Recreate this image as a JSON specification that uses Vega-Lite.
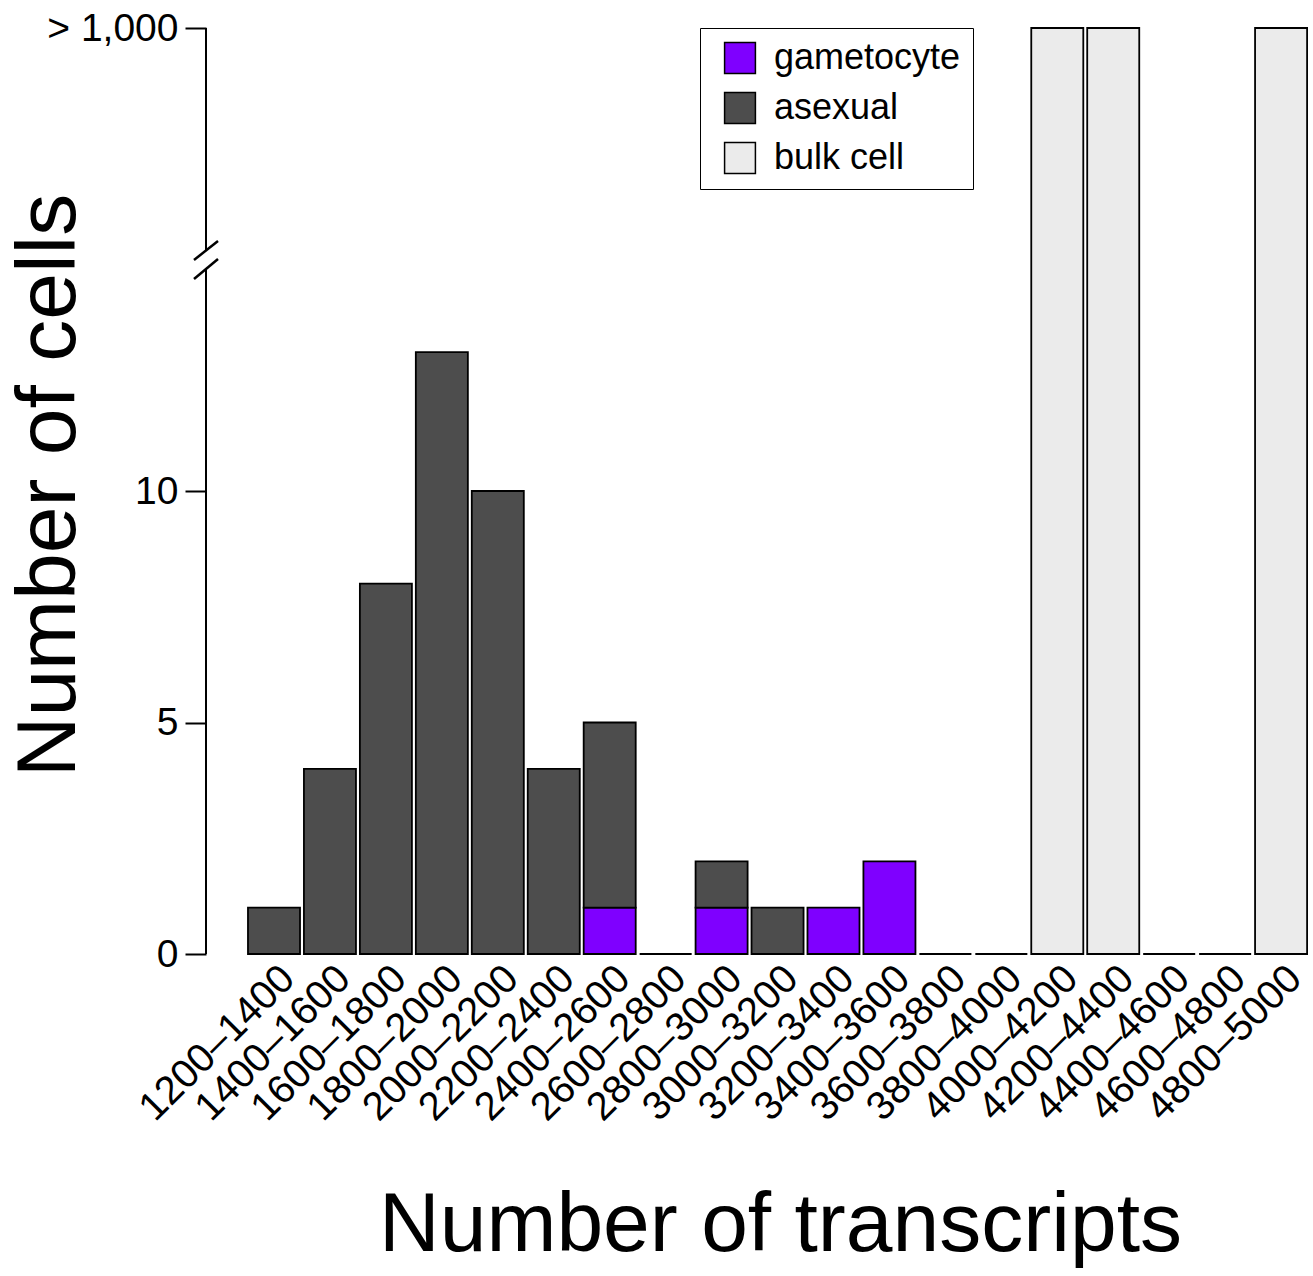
{
  "$schema": "https://vega.github.io/schema/vega-lite/v6.json",
  "autosize": "none",
  "width": 1105,
  "height": 926,
  "padding": {"left": 206, "top": 28, "right": 2, "bottom": 322},
  "background": "white",
  "config": {
    "view": {"stroke": null},
    "font": "Liberation Sans",
    "axis": {"labelFont": "Liberation Sans", "titleFont": "Liberation Sans", "labelColor": "black", "titleColor": "black", "titleFontWeight": "normal", "grid": false},
    "legend": {"labelFont": "Liberation Sans"}
  },
  "layer": [
    {
      "data": {"values": [
        {"range": "1200–1400", "type": "asexual", "count": 1},
        {"range": "1400–1600", "type": "asexual", "count": 4},
        {"range": "1600–1800", "type": "asexual", "count": 8},
        {"range": "1800–2000", "type": "asexual", "count": 13},
        {"range": "2000–2200", "type": "asexual", "count": 10},
        {"range": "2200–2400", "type": "asexual", "count": 4},
        {"range": "2400–2600", "type": "gametocyte", "count": 1},
        {"range": "2400–2600", "type": "asexual", "count": 4},
        {"range": "2600–2800", "type": "asexual", "count": 0},
        {"range": "2800–3000", "type": "gametocyte", "count": 1},
        {"range": "2800–3000", "type": "asexual", "count": 1},
        {"range": "3000–3200", "type": "asexual", "count": 1},
        {"range": "3200–3400", "type": "gametocyte", "count": 1},
        {"range": "3400–3600", "type": "gametocyte", "count": 2},
        {"range": "3600–3800", "type": "asexual", "count": 0},
        {"range": "3800–4000", "type": "asexual", "count": 0},
        {"range": "4000–4200", "type": "bulk cell", "count": 1000},
        {"range": "4200–4400", "type": "bulk cell", "count": 1000},
        {"range": "4400–4600", "type": "asexual", "count": 0},
        {"range": "4600–4800", "type": "asexual", "count": 0},
        {"range": "4800–5000", "type": "bulk cell", "count": 1000}
      ]},
      "mark": {"type": "bar", "stroke": "black", "strokeWidth": 1.8},
      "encoding": {
        "x": {
          "field": "range", "type": "nominal", "sort": null,
          "scale": {"paddingInner": 0.07, "paddingOuter": 0.41, "align": 0.915},
          "axis": {
            "title": "Number of transcripts", "titleFontSize": 84, "titleX": 574, "titleY": 296,
            "titleBaseline": "alphabetic", "titleAnchor": null, "titleAlign": "center",
            "labelAngle": -45, "labelFontSize": 40, "labelAlign": "right", "labelBaseline": "top",
            "labelPadding": 4, "domain": false, "ticks": false, "labelOverlap": false, "labelLimit": 0
          }
        },
        "y": {
          "field": "count", "type": "quantitative", "stack": "zero",
          "scale": {"domain": [0, 20], "clamp": true, "nice": false, "zero": true},
          "axis": {
            "title": "Number of cells", "titleFontSize": 84, "titleX": -157, "titleY": 457,
            "titleAngle": -90, "titleAlign": "center", "titleBaseline": "middle", "titleAnchor": null,
            "values": [0, 5, 10, 20],
            "labelExpr": "datum.value == 20 ? '> 1,000' : datum.label",
            "labelFontSize": 39, "labelPadding": 7, "labelBaseline": "middle", "labelLimit": 0,
            "domain": false, "tickSize": 21, "tickWidth": 2, "tickColor": "black"
          }
        },
        "color": {
          "field": "type", "type": "nominal",
          "scale": {"domain": ["gametocyte", "asexual", "bulk cell"], "range": ["#7F00FF", "#4D4D4D", "#EBEBEB"]},
          "legend": {
            "title": null, "orient": "none", "legendX": 494, "legendY": 0,
            "labelFontSize": 36, "labelLimit": 0, "symbolType": "square", "symbolSize": 950,
            "symbolStrokeColor": "black", "symbolStrokeWidth": 1.5,
            "strokeColor": "black", "fillColor": "white", "padding": 12,
            "rowPadding": 12, "labelOffset": 16, "symbolOffset": 10, "labelColor": "black"
          }
        },
        "order": {"field": "type", "sort": "descending"}
      }
    },
    {
      "data": {"values": [
        {"y": 0, "y2": 14.79},
        {"y": 15.19, "y2": 20}
      ]},
      "mark": {"type": "rule", "stroke": "black", "strokeWidth": 2},
      "encoding": {
        "x": {"value": 0},
        "y": {"field": "y", "type": "quantitative"},
        "y2": {"field": "y2"}
      }
    },
    {
      "data": {"values": [
        {"y": 14.99, "y2": 15.4},
        {"y": 14.58, "y2": 15.01}
      ]},
      "mark": {"type": "rule", "stroke": "black", "strokeWidth": 2.5},
      "encoding": {
        "x": {"value": -12},
        "x2": {"value": 12},
        "y": {"field": "y", "type": "quantitative"},
        "y2": {"field": "y2"}
      }
    }
  ]
}
